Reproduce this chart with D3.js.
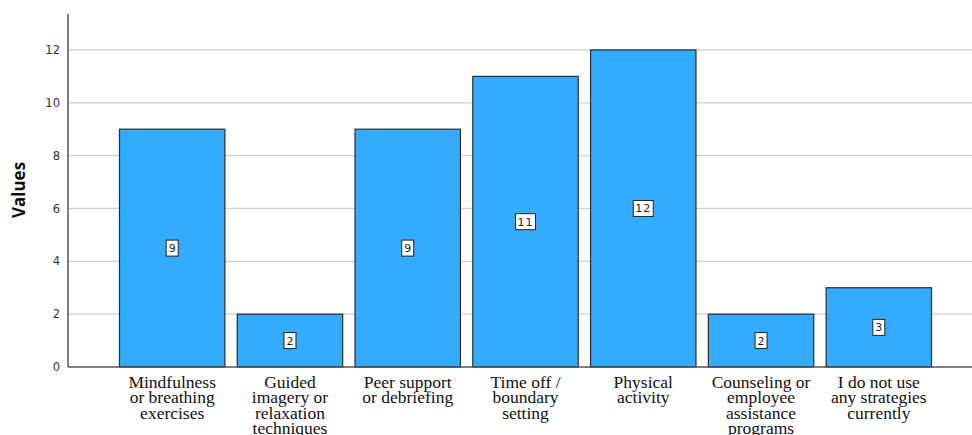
<!DOCTYPE html>
<html><head><meta charset="utf-8">
<script src="https://cdn.jsdelivr.net/npm/d3@7"></script>
<style>body{margin:0;background:#fff}svg{display:block}</style>
</head><body><svg id="c" width="972" height="435"></svg>
<script>
const categories = [
  ["Mindfulness","or breathing","exercises"],
  ["Guided","imagery or","relaxation","techniques"],
  ["Peer support","or debriefing"],
  ["Time off /","boundary","setting"],
  ["Physical","activity"],
  ["Counseling or","employee","assistance","programs"],
  ["I do not use","any strategies","currently"]
];
const values = [9, 2, 9, 11, 12, 2, 3];
const yTicks = [0, 2, 4, 6, 8, 10, 12];
const yLabel = "Values";

(function(){
const svg = d3.select("#c");
const pl = 68, pr = 972, pt = 14, base = 367;
const ids = categories.map((d,i)=>i);
const x = d3.scaleBand().domain(ids).range([113.6, 937.4]).paddingInner(0.105).paddingOuter(0.05);
const y = d3.scaleLinear().domain([0, 13.36]).range([base, pt]);

// grid
svg.append("g").selectAll("line").data(yTicks.filter(t=>t>0)).join("line")
  .attr("x1", pl).attr("x2", pr).attr("y1", d=>y(d)).attr("y2", d=>y(d))
  .attr("stroke", "#cfcfcf").attr("stroke-width", 1.2);

// bars
svg.append("g").selectAll("rect").data(values).join("rect")
  .attr("x", (d,i)=>x(i)).attr("width", x.bandwidth())
  .attr("y", d=>y(d)).attr("height", d=>base - y(d))
  .attr("fill", "#33abff").attr("stroke", "#2b2b2b").attr("stroke-width", 1.2);

// y axis
const ya = d3.axisLeft(y).tickValues(yTicks).tickSize(0).tickPadding(8);
const gy = svg.append("g").attr("transform", `translate(${pl},0)`).call(ya);
gy.select(".domain").remove();
gy.selectAll("text").attr("font-family","DejaVu Sans").attr("font-size", 11.5).attr("fill","#333");
svg.append("line").attr("x1", pl).attr("x2", pl).attr("y1", pt).attr("y2", base)
  .attr("stroke","#555").attr("stroke-width",1.5);
svg.append("line").attr("x1", pl).attr("x2", pr).attr("y1", base).attr("y2", base)
  .attr("stroke","#555").attr("stroke-width",1.5);

// x labels
const xa = svg.append("g");
categories.forEach((lines,i)=>{
  const t = xa.append("text").attr("text-anchor","middle")
    .attr("font-family","Liberation Serif").attr("font-size", 17.5).attr("fill","#111");
  lines.forEach((l,j)=>{
    t.append("tspan").attr("x", x(i)+x.bandwidth()/2).attr("y", 388 + j*15.4).text(l);
  });
});

// value labels
const lg = svg.append("g");
values.forEach((v,i)=>{
  const cx = x(i)+x.bandwidth()/2, cy = y(v/2);
  const txt = String(v);
  const w = txt.length === 1 ? 12 : 20;
  lg.append("rect").attr("x", cx - w/2).attr("y", cy - 8).attr("width", w).attr("height", 16)
    .attr("fill","#fff").attr("stroke","#222").attr("stroke-width",1);
  lg.append("text").attr("x", cx).attr("y", cy + 4).attr("text-anchor","middle")
    .attr("font-family","DejaVu Sans").attr("font-size", 11).attr("fill","#222")
    .attr("letter-spacing", txt.length>1 ? 1 : 0).text(txt);
});

// y label
svg.append("text").attr("transform", `translate(25,190) rotate(-90)`)
  .attr("text-anchor","middle").attr("font-family","Open Sans").attr("font-weight","bold")
  .attr("font-size", 17).attr("fill","#111").text(yLabel);
})();
</script></body></html>
